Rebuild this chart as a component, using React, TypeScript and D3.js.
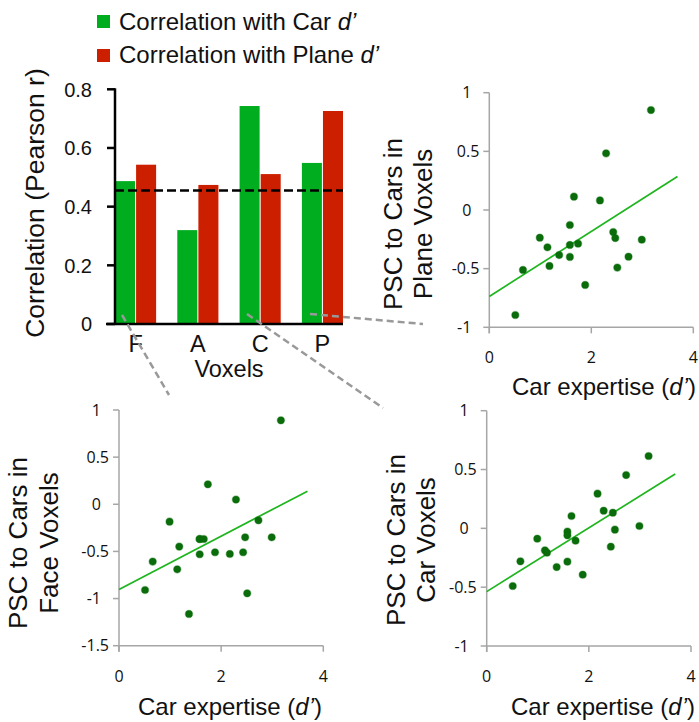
import React from 'react';
import * as d3 from 'd3';

// Bar chart: correlation of voxel PSC with behavioural expertise
const voxelGroups = ['F', 'A', 'C', 'P'];
const carCorrelation = [0.487, 0.32, 0.743, 0.549];
const planeCorrelation = [0.543, 0.474, 0.511, 0.726];
const significanceLevel = [0.455];
const corrTicks = [0, 0.2, 0.4, 0.6, 0.8];

// Per-subject scatter data (shared x: car expertise d')
const carExpertise = [0.51, 0.66, 0.99, 1.14, 1.18, 1.37, 1.58, 1.58, 1.58, 1.66, 1.74, 1.88, 2.17, 2.29, 2.43, 2.47, 2.51, 2.73, 2.99, 3.17];
const planePSC = [-0.895, -0.511, -0.236, -0.318, -0.477, -0.384, -0.128, -0.298, -0.4, 0.114, -0.287, -0.639, 0.082, 0.483, -0.188, -0.239, -0.491, -0.398, -0.253, 0.852];
const facePSC = [-0.909, -0.608, -0.184, -0.69, -0.449, -1.163, -0.368, -0.53, -0.368, -0.368, 0.212, -0.509, -0.527, 0.05, -0.509, -0.35, -0.944, -0.17, -0.35, 0.891];
const carPSC = [-0.49, -0.28, -0.088, -0.187, -0.207, -0.329, -0.028, -0.059, -0.283, 0.105, -0.105, -0.394, 0.295, 0.15, -0.156, 0.133, -0.011, 0.453, 0.02, 0.615];

// Linear fits: [intercept, slope]
const planeFit = [-0.737, 0.277];
const faceFit = [-0.905, 0.283];
const carFit = [-0.538, 0.271];
const fitRange = [0, 3.69];

const pscTicks = [-1, -0.5, 0, 0.5, 1];
const facePscTicks = [-1.5, -1, -0.5, 0, 0.5, 1];
const expertiseTicks = [0, 2, 4];

const GREEN = '#00ad1f';
const RED = '#cc1f00';
const SANS = '"Liberation Sans", Arial, Helvetica, sans-serif';
const TICK_FONT = '"Open Sans", "Noto Sans", sans-serif';

function DPrime() {
  return <tspan fontStyle="italic">d’</tspan>;
}

function BarChart() {
  const y = d3.scaleLinear().domain([0, 0.8]).range([324, 89.3]);
  const x = d3.scaleBand<string>().domain(voxelGroups).range([115, 343]).paddingInner(0.34).paddingOuter(0);
  const inner = d3.scaleBand<string>().domain(['car', 'plane']).range([0, x.bandwidth()]).paddingInner(0.05);
  const series = [
    { key: 'car', values: carCorrelation, color: GREEN },
    { key: 'plane', values: planeCorrelation, color: RED },
  ];
  return (
    <g fontFamily={SANS}>
      {series.map((s) =>
        voxelGroups.map((g, i) => (
          <rect
            key={s.key + g}
            x={(x(g) as number) + (inner(s.key) as number)}
            y={y(s.values[i])}
            width={inner.bandwidth()}
            height={y(0) - y(s.values[i])}
            fill={s.color}
          />
        ))
      )}
      {significanceLevel.map((v, i) => (
        <line key={i} x1={115} x2={343} y1={y(v)} y2={y(v)} stroke="#000" strokeWidth={2.5} strokeDasharray="9 4" />
      ))}
      {/* axes */}
      <line x1={115} x2={115} y1={y(0.8) - 1} y2={y(0)} stroke="#000" strokeWidth={2.5} />
      <line x1={106} x2={343} y1={y(0)} y2={y(0)} stroke="#000" strokeWidth={2.5} />
      {corrTicks.map((t) => (
        <g key={t}>
          <line x1={107} x2={115} y1={y(t)} y2={y(t)} stroke="#000" strokeWidth={2.5} />
          <text x={92} y={y(t)} dy="0.36em" textAnchor="end" fontSize={20} fill="#111">
            {t === 0 ? '0' : d3.format('.1f')(t)}
          </text>
        </g>
      ))}
      {voxelGroups.map((g) => (
        <text key={g} x={(x(g) as number) + x.bandwidth() / 2} y={352} textAnchor="middle" fontSize={23.5} fill="#111">
          {g}
        </text>
      ))}
      <text x={229} y={377} textAnchor="middle" fontSize={23.5} fill="#111">Voxels</text>
      <text transform="translate(44,203) rotate(-90)" textAnchor="middle" fontSize={26.5} fill="#111">
        Correlation (Pearson r)
      </text>
      {/* legend */}
      <rect x={97} y={15} width={13} height={13} fill={GREEN} />
      <text x={119} y={29.5} fontSize={24} fill="#111">
        Correlation with Car <DPrime />
      </text>
      <rect x={97} y={49} width={13} height={13} fill={RED} />
      <text x={119} y={62.5} fontSize={24} fill="#111">
        Correlation with Plane <DPrime />
      </text>
    </g>
  );
}

type ScatterProps = {
  values: number[];
  fit: number[];
  ticks: number[];
  x0: number;
  x1: number;
  yTopPx: number;
  yBottomPx: number;
  titleLines: string[];
  titleXs: number[];
  titleY: number;
  xTitleX: number;
  xTitleY: number;
};

function Scatter(p: ScatterProps) {
  const yMin = d3.min(p.ticks) as number;
  const yMax = d3.max(p.ticks) as number;
  const x = d3.scaleLinear().domain([0, 4]).range([p.x0, p.x1]);
  const y = d3.scaleLinear().domain([yMin, yMax]).range([p.yBottomPx, p.yTopPx]);
  const fitLine = d3
    .line<number>()
    .x((d) => x(d))
    .y((d) => y(p.fit[0] + p.fit[1] * d));
  const axisColor = '#a6a6a6';
  return (
    <g>
      <line x1={x(0)} x2={x(0)} y1={y(yMax)} y2={y(yMin) + 6} stroke={axisColor} strokeWidth={1.5} />
      <line x1={x(0)} x2={x(4)} y1={y(yMin)} y2={y(yMin)} stroke={axisColor} strokeWidth={1.5} />
      {p.ticks.map((t) => (
        <g key={t}>
          <line x1={x(0) - 6} x2={x(0)} y1={y(t)} y2={y(t)} stroke={axisColor} strokeWidth={1.5} />
          <text
            x={x(0) - (Number.isInteger(t) ? 18 : 10)}
            y={y(t)}
            dy="0.36em"
            textAnchor="end"
            fontFamily={TICK_FONT}
            fontSize={16}
            fill="#111"
          >
            {String(t)}
          </text>
        </g>
      ))}
      {expertiseTicks.map((t) => (
        <g key={t}>
          <line x1={x(t)} x2={x(t)} y1={y(yMin)} y2={y(yMin) + 6} stroke={axisColor} strokeWidth={1.5} />
          <text x={x(t)} y={y(yMin) + 36} textAnchor="middle" fontFamily={TICK_FONT} fontSize={16} fill="#111">
            {t}
          </text>
        </g>
      ))}
      <path d={fitLine(fitRange) || ''} fill="none" stroke="#1fb51f" strokeWidth={1.7} />
      {carExpertise.map((d, i) => (
        <circle
          key={i}
          cx={x(d)}
          cy={y(p.values[i])}
          r={3.6}
          fill="#0a6c0a"
          stroke="rgba(10,108,10,0.35)"
          strokeWidth={1.4}
        />
      ))}
      {p.titleLines.map((line, i) => (
        <text
          key={i}
          transform={`translate(${p.titleXs[i]},${p.titleY}) rotate(-90)`}
          textAnchor="middle"
          fontFamily={SANS}
          fontSize={26}
          fill="#111"
        >
          {line}
        </text>
      ))}
      <text x={p.xTitleX} y={p.xTitleY} textAnchor="middle" fontFamily={SANS} fontSize={24} fill="#111">
        Car expertise (<DPrime />)
      </text>
    </g>
  );
}

export default function App() {
  const connector = { stroke: '#999', strokeWidth: 2.5, strokeDasharray: '7 4' };
  return (
    <div style={{ position: 'absolute', left: 0, top: 0 }}>
      <svg width={699} height={722} style={{ display: 'block', background: '#fff' }}>
        <BarChart />
        {/* links from voxel groups to their scatter plots */}
        <line x1={122} y1={315} x2={169} y2={395} {...connector} />
        <line x1={247} y1={314} x2={383} y2={408} {...connector} />
        <line x1={310} y1={314} x2={423} y2={324} {...connector} />
        <Scatter
          values={planePSC}
          fit={planeFit}
          ticks={pscTicks}
          x0={489.3}
          x1={693.3}
          yTopPx={92.7}
          yBottomPx={327.3}
          titleLines={['PSC to Cars in', 'Plane Voxels']}
          titleXs={[402, 432]}
          titleY={224}
          xTitleX={604}
          xTitleY={395}
        />
        <Scatter
          values={facePSC}
          fit={faceFit}
          ticks={facePscTicks}
          x0={119}
          x1={323.3}
          yTopPx={410}
          yBottomPx={645.7}
          titleLines={['PSC to Cars in', 'Face Voxels']}
          titleXs={[27, 58]}
          titleY={543}
          xTitleX={230}
          xTitleY={715}
        />
        <Scatter
          values={carPSC}
          fit={carFit}
          ticks={pscTicks}
          x0={486.7}
          x1={691}
          yTopPx={410.7}
          yBottomPx={646}
          titleLines={['PSC to Cars in', 'Car Voxels']}
          titleXs={[405, 435]}
          titleY={540}
          xTitleX={603}
          xTitleY={715}
        />
      </svg>
    </div>
  );
}
